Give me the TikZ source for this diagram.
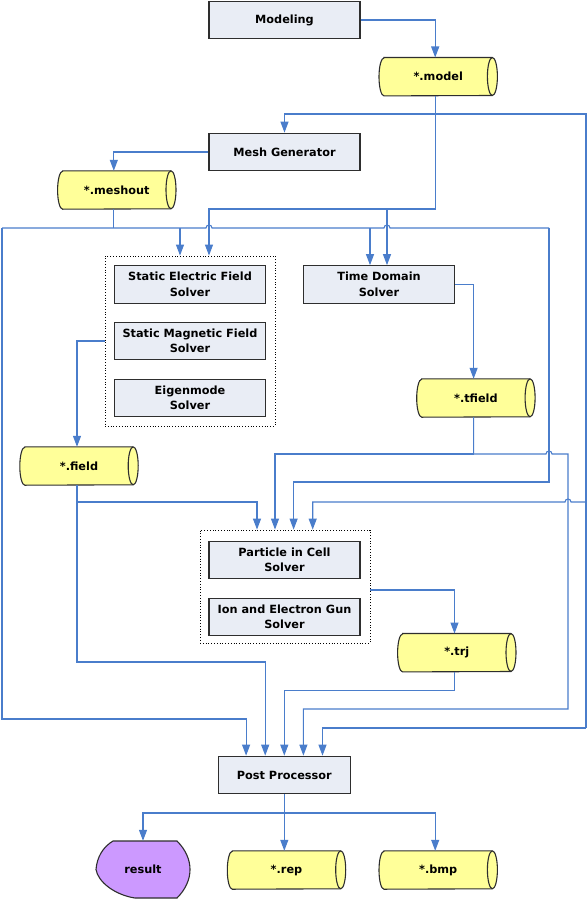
\documentclass[tikz,border=0pt]{standalone}
\usepackage{fontspec}
\setmainfont{DejaVu Sans}
\usetikzlibrary{arrows.meta,calc,backgrounds}
\definecolor{ln}{HTML}{4A7DCB}
\definecolor{boxf}{HTML}{E9EDF5}
\definecolor{cylf}{HTML}{FFFF99}
\definecolor{resf}{HTML}{CC99FF}
\definecolor{edge}{HTML}{2E2E2E}
\newcommand\cylshape[1]{%
  \filldraw[shapeline, fill=cylf]
    ($(#1.north west)+(5,0)$) -- ($(#1.north east)+(-5,0)$)
    arc[start angle=90, end angle=-90, x radius=5pt, y radius=19pt]
    -- ($(#1.south west)+(5,0)$)
    arc[start angle=270, end angle=90, x radius=5pt, y radius=19pt] -- cycle;
  \draw[shapeline] ($(#1.north east)+(-5,0)$)
    arc[start angle=90, end angle=270, x radius=5pt, y radius=19pt];}
\begin{document}
\begin{tikzpicture}[x=1pt,y=1pt,
  every node/.style={font=\fontsize{11.3}{15.5}\selectfont\bfseries},
  shapeline/.style={draw=edge, line width=1.1pt},
  proc/.style={shapeline, line width=1.2pt, fill=boxf, minimum width=151pt, minimum height=37.5pt, align=center, inner sep=0pt},
  grp/.style={draw=black, dotted, line width=0.8pt, fill=white, inner sep=0pt},
  cylnode/.style={minimum width=118pt, minimum height=38pt, inner sep=0pt},
  line/.style={draw=ln, line width=1.1pt},
  arr/.style={line, -{Triangle[length=11pt,width=8pt]}}]
\useasboundingbox (0,0) rectangle (588,-899);

% process boxes
\node[proc] (modeling) at (284.5,-20) {Modeling};
\node[proc] (mesh) at (284.5,-152) {Mesh Generator};
\node[grp, minimum width=170pt, minimum height=170pt] (SG) at (190,-341) {};
\node[proc] (se) at (190,-284.5) {Static Electric Field\\Solver};
\node[proc] (sm) at (190,-341) {Static Magnetic Field\\Solver};
\node[proc] (em) at (190,-398) {Eigenmode\\Solver};
\node[proc] (td) at (379,-284.5) {Time Domain\\Solver};
\node[grp, minimum width=170pt, minimum height=113pt] (PG) at (285,-586.5) {};
\node[proc] (pic) at (284.5,-560) {Particle in Cell\\Solver};
\node[proc] (ieg) at (284.5,-617) {Ion and Electron Gun\\Solver};
\node[proc, minimum width=132pt] (pp) at (284.3,-775) {Post Processor};

% data nodes
\node[cylnode] (model) at (438.2,-76.7) {*.model};
\node[cylnode] (meshout) at (116.8,-190) {*.meshout};
\node[cylnode] (tfield) at (475.9,-398) {*.tfield};
\node[cylnode] (field) at (79,-466) {*.field};
\node[cylnode] (trj) at (456.8,-652.7) {*.trj};
\node[cylnode] (rep) at (286.5,-870) {*.rep};
\node[cylnode] (bmp) at (438.2,-870) {*.bmp};
\node[minimum width=94pt, minimum height=57pt, inner sep=0pt] (result) at (143,-869.5) {result};

\begin{scope}[on background layer]
  \cylshape{model}
  \cylshape{meshout}
  \cylshape{tfield}
  \cylshape{field}
  \cylshape{trj}
  \cylshape{rep}
  \cylshape{bmp}
  \filldraw[shapeline, fill=resf] (113,-841) -- (177,-841)
    .. controls (186,-850) and (190,-860) .. (190,-869.5)
    .. controls (190,-879) and (186,-889) .. (177,-898)
    -- (135,-898)
    .. controls (115,-895) and (98,-882) .. (96,-869.5)
    .. controls (97,-857) and (103,-847) .. (113,-841) -- cycle;
\end{scope}

% connectors
\draw[arr] (modeling.east) -| ([xshift=-3pt]model.north);
\draw[arr] ([xshift=-3pt]model.south) -- (435.2,-114) -| (mesh.north);
\draw[line] (435.2,-114) -- (586,-114) -- (586,-728);
\draw[arr] (586,-728) -| ([xshift=38.2pt]pp.north);
\draw[arr] (586,-502) -- (571,-502) arc[start angle=0,end angle=180,radius=3pt] -- (312.7,-502) -- ([xshift=27.7pt]PG.north);
\draw[arr] ([xshift=-3pt]model.south) -- (435.2,-209) -| ([xshift=19pt]SG.north);
\draw[arr] (387,-209) -- ([xshift=8pt]td.north);

\draw[arr] (mesh.west) -| ([xshift=-3pt]meshout.north);
\draw[line] ([xshift=-3pt]meshout.south) -- (113.8,-228);
\draw[line] (2,-228) -- (206,-228) arc[start angle=180,end angle=0,radius=3pt] -- (384,-228) arc[start angle=180,end angle=0,radius=3pt] -- (549,-228);
\draw[arr] (180,-228) -- ([xshift=-10pt]SG.north);
\draw[arr] (370,-228) -- ([xshift=-9pt]td.north);
\draw[arr] (2,-228) -- (2,-719) -| ([xshift=-38.2pt]pp.north);
\draw[arr] (549,-228) -- (549,-482) -| ([xshift=8.6pt]PG.north);

\draw[arr] (td.east) -| ([xshift=-2.3pt]tfield.north);
\draw[line] ([xshift=-2.3pt]tfield.south) -- (473.6,-454);
\draw[arr] (473.6,-454) -| ([xshift=-10pt]PG.north);
\draw[arr] (473.6,-454) -- (546,-454) arc[start angle=180,end angle=0,radius=3pt] -- (568,-454) -- (568,-709) -| ([xshift=19.1pt]pp.north);

\draw[arr] (SG.west) -| ([xshift=-2pt]field.north);
\draw[arr] ([xshift=-2pt]field.south) -- (77,-662) -| ([xshift=-19.1pt]pp.north);
\draw[arr] (77,-502) -| ([xshift=-28pt]PG.north);

\draw[arr] ([yshift=-3.5pt]PG.east) -| ([xshift=-2.3pt]trj.north);
\draw[arr] ([xshift=-2.3pt]trj.south) -- (454.5,-690.3) -| (pp.north);

\draw[line] (pp.south) -- (284.3,-813);
\draw[arr] (284.3,-813) -| (result.north);
\draw[arr] (284.3,-813) -- ([xshift=-2.2pt]rep.north);
\draw[arr] (284.3,-813) -| ([xshift=-3pt]bmp.north);
\end{tikzpicture}
\end{document}
